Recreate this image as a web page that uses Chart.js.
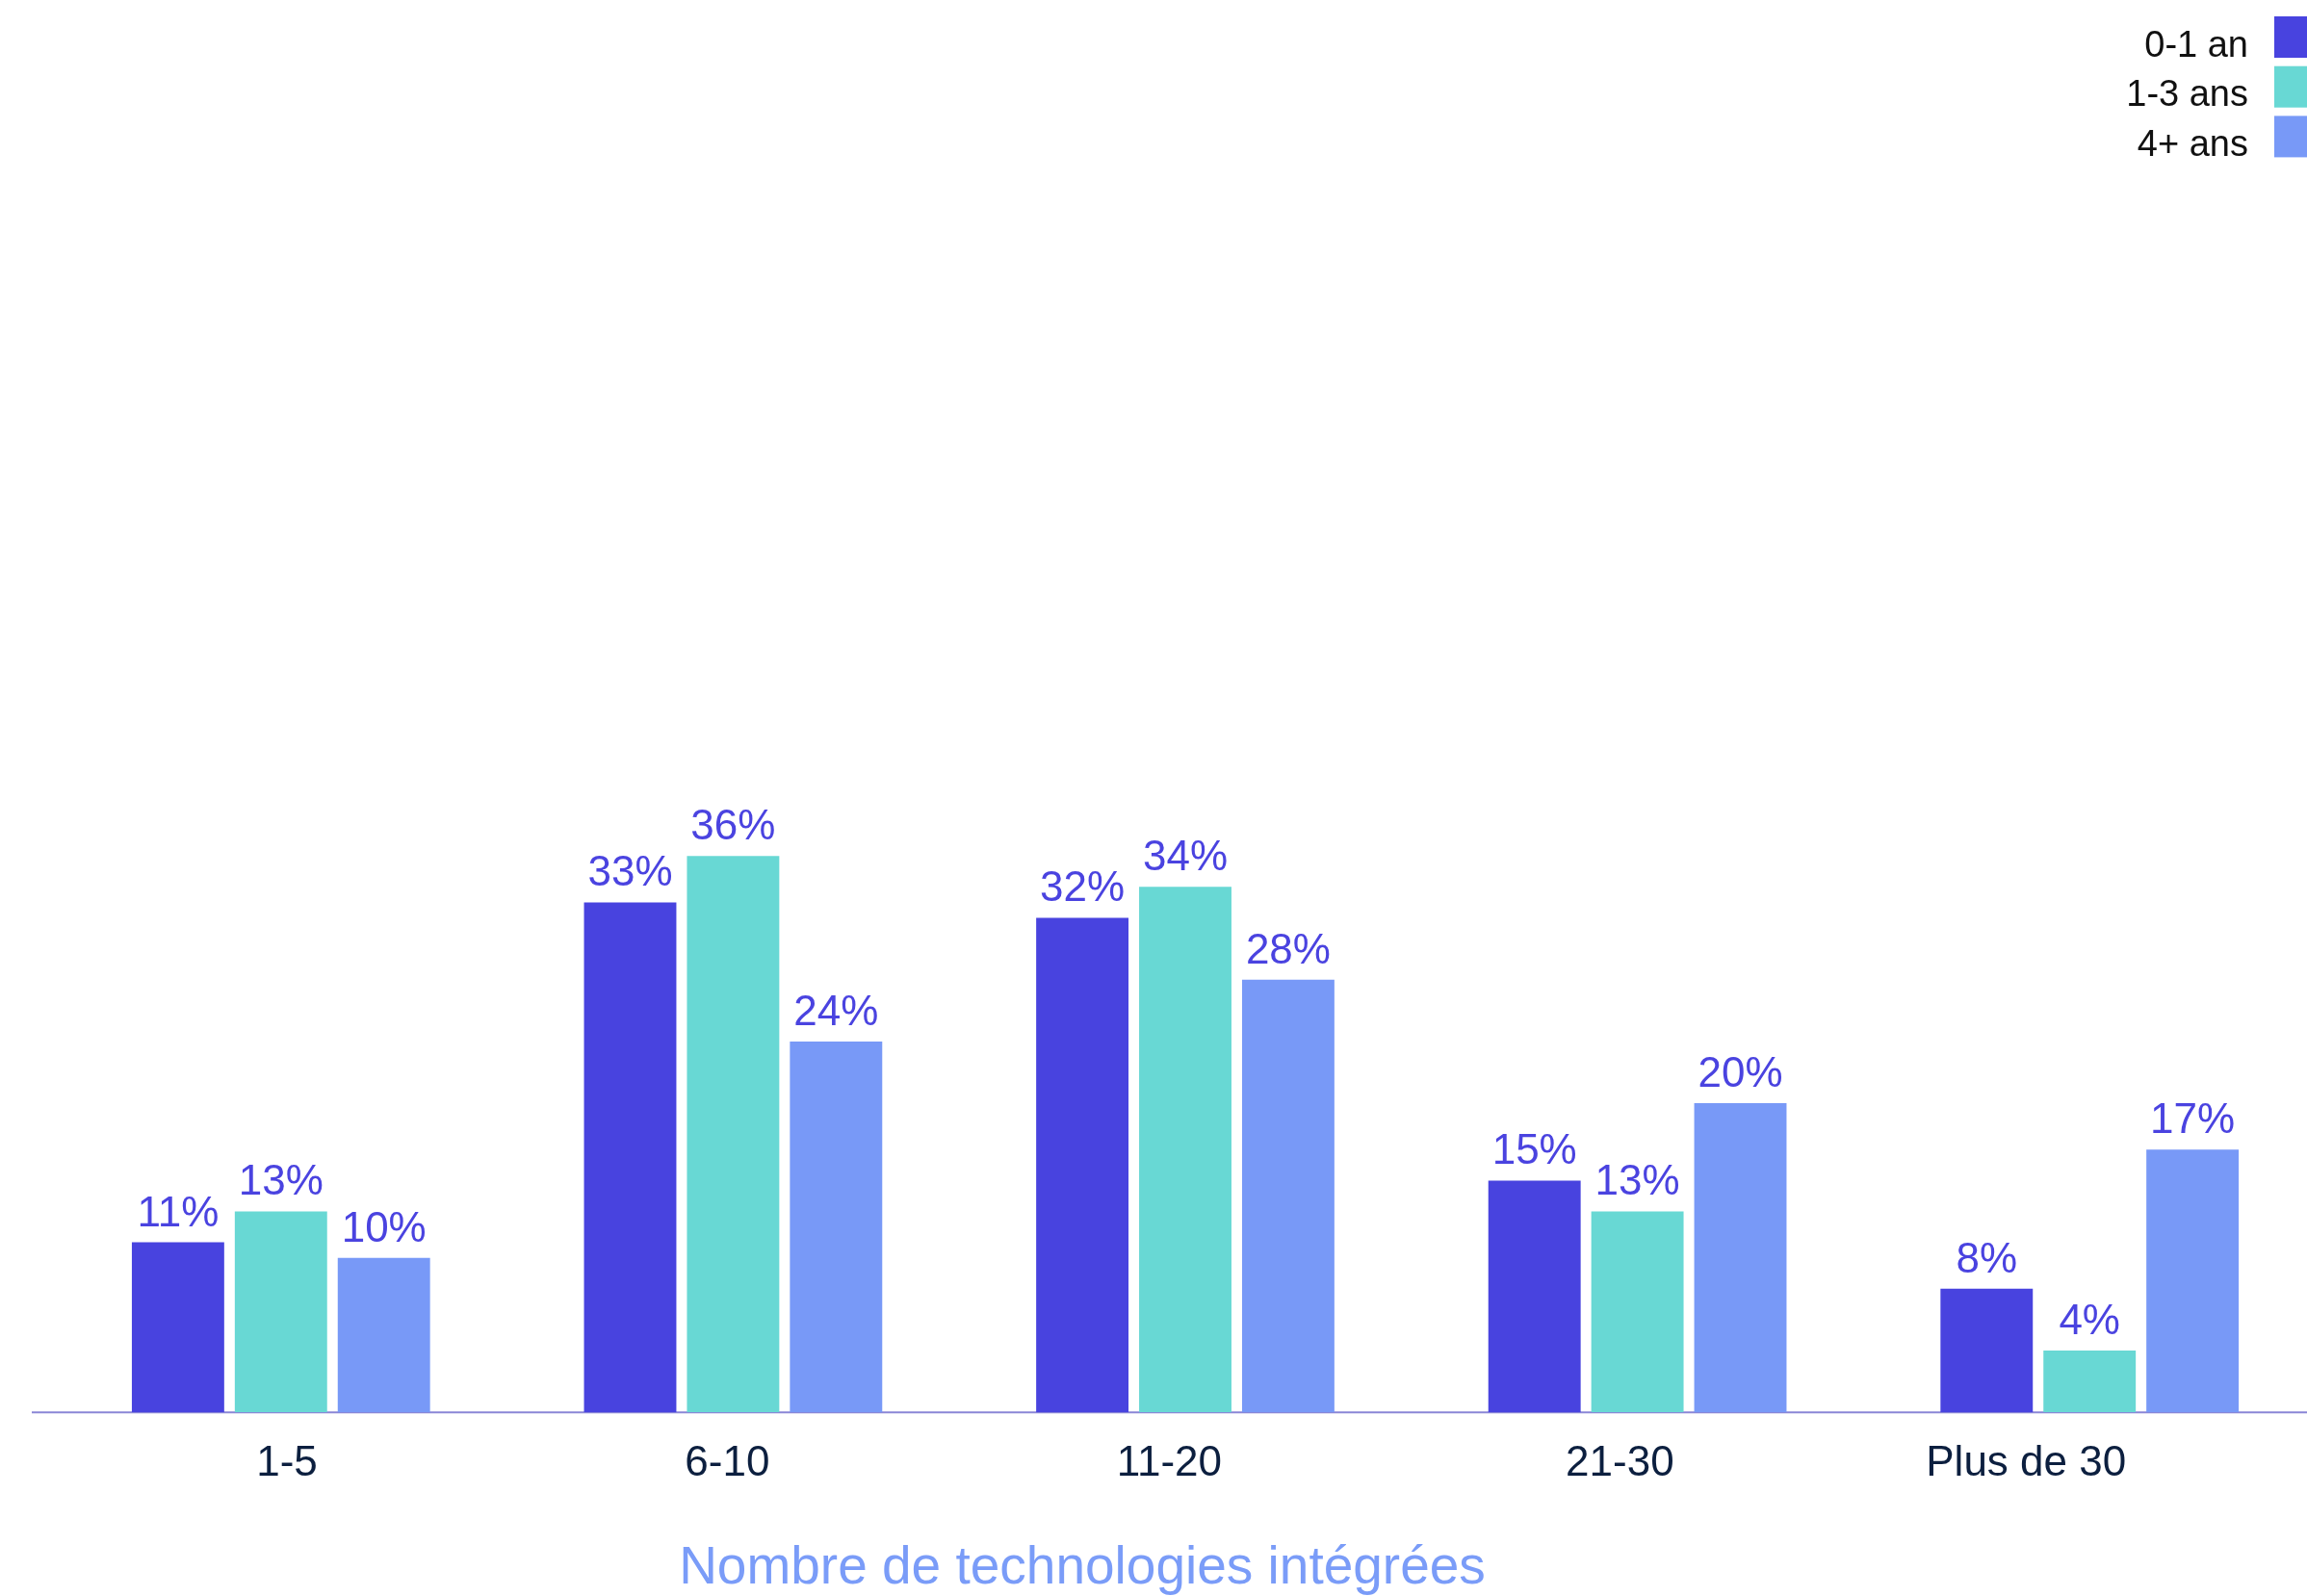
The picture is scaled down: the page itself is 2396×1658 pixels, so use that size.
<!DOCTYPE html>
<html lang="fr">
<head>
<meta charset="utf-8">
<title>Nombre de technologies intégrées</title>
<script src="https://cdn.jsdelivr.net/npm/chart.js@4/dist/chart.umd.min.js"></script>
<style>
  html, body { margin: 0; padding: 0; background: #ffffff; overflow: hidden; }
  #wrap { width: 2396px; height: 1658px; overflow: hidden; position: relative; }
  #chart { display: block; }
</style>
</head>
<body>
<div id="wrap"><canvas id="chart" width="2410" height="1658"></canvas></div>
<script>
// Categories: number of integrated technologies
const categories = ['1-5', '6-10', '11-20', '21-30', 'Plus de 30'];

// Share of respondents (%) per seniority group
const seriesNames = ['0-1 an', '1-3 ans', '4+ ans'];
const values01 = [11, 33, 32, 15, 8];
const values13 = [13, 36, 34, 13, 4];
const values4p = [10, 24, 28, 20, 17];

const axisTitle = 'Nombre de technologies intégrées';

const colors = ['#4843df', '#68d8d4', '#7899f7'];
const FONT = '"Liberation Sans", Arial, Helvetica, sans-serif';

// Value labels above each bar
const valueLabels = {
  id: 'valueLabels',
  afterDatasetsDraw(chart) {
    const ctx = chart.ctx;
    ctx.save();
    ctx.font = '44px ' + FONT;
    ctx.fillStyle = '#4a43e0';
    ctx.textAlign = 'center';
    ctx.textBaseline = 'alphabetic';
    chart.data.datasets.forEach((ds, i) => {
      chart.getDatasetMeta(i).data.forEach((bar, j) => {
        ctx.fillText(ds.data[j] + '%', bar.x, bar.y - 17);
      });
    });
    ctx.restore();
  }
};

// Baseline under the bars, running the full width
const baseline = {
  id: 'baseline',
  beforeDatasetsDraw(chart) {
    const ctx = chart.ctx;
    const y = chart.scales.y.getPixelForValue(0);
    ctx.save();
    ctx.strokeStyle = '#8a86d6';
    ctx.lineWidth = 2;
    ctx.beginPath();
    ctx.moveTo(33, y);
    ctx.lineTo(chart.width, y);
    ctx.stroke();
    ctx.restore();
  }
};

// Legend (label text to the left of the swatch) and axis title
const sideLegend = {
  id: 'sideLegend',
  afterDraw(chart) {
    const ctx = chart.ctx;
    ctx.save();
    ctx.font = '38px ' + FONT;
    ctx.textAlign = 'right';
    ctx.textBaseline = 'alphabetic';
    chart.data.datasets.forEach((ds, i) => {
      const top = 17 + i * 51.7;
      ctx.fillStyle = ds.backgroundColor;
      ctx.fillRect(2362, top, 44, 43);
      ctx.fillStyle = '#111111';
      ctx.fillText(ds.label, 2335, top + 41.5);
    });

    ctx.font = '55px ' + FONT;
    ctx.fillStyle = '#7a9cf8';
    ctx.textAlign = 'center';
    ctx.fillText(axisTitle, 1124, 1645);
    ctx.restore();
  }
};

const seriesValues = [values01, values13, values4p];

new Chart(document.getElementById('chart'), {
  type: 'bar',
  data: {
    labels: categories,
    datasets: seriesNames.map((name, i) => ({
      label: name,
      data: seriesValues[i],
      backgroundColor: colors[i],
      borderWidth: 0,
      categoryPercentage: 0.683,
      barPercentage: 0.897
    }))
  },
  options: {
    responsive: false,
    animation: false,
    devicePixelRatio: 1,
    layout: { padding: { left: 57, right: 5, top: 825, bottom: 92 } },
    scales: {
      x: {
        grid: { display: false },
        border: { display: false },
        ticks: {
          color: '#0c1f3f',
          font: { family: FONT, size: 44 },
          padding: 19,
          align: 'end',
          labelOffset: 38
        }
      },
      y: {
        display: false,
        min: 0,
        max: 40
      }
    },
    plugins: {
      legend: { display: false },
      tooltip: { enabled: false },
      title: { display: false }
    }
  },
  plugins: [baseline, valueLabels, sideLegend]
});
</script>
</body>
</html>
